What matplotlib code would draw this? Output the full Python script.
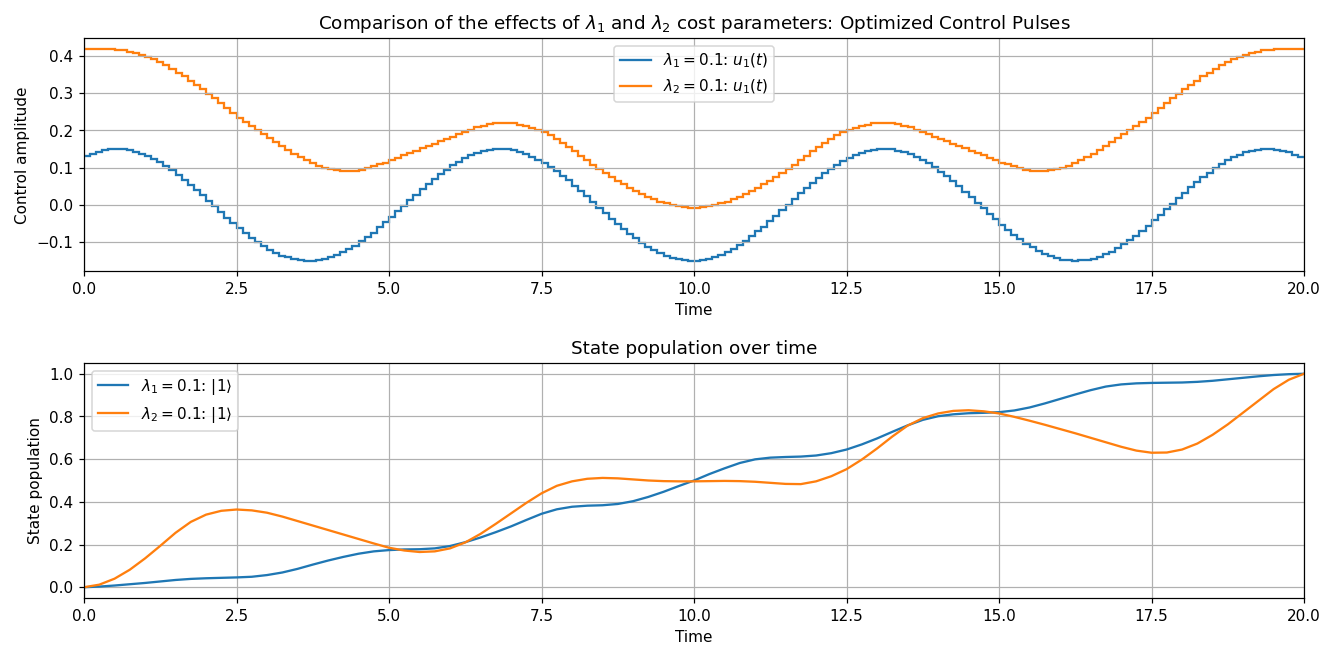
import numpy as np
import matplotlib
matplotlib.use("Agg")
import matplotlib.pyplot as plt

# piecewise-constant control pulses, 200 slices of 0.1 over t = 0..20
t_edges = np.linspace(0, 20, 201)

u1_lam1 = [
    0.132, 0.138, 0.143, 0.147, 0.149, 0.150, 0.149, 0.147, 0.143, 0.138,
    0.132, 0.124, 0.115, 0.105, 0.093, 0.081, 0.068, 0.054, 0.040, 0.026,
    0.011, -0.004, -0.019, -0.034, -0.049, -0.062, -0.076, -0.088, -0.100, -0.111,
    -0.120, -0.129, -0.136, -0.141, -0.146, -0.149, -0.150, -0.150, -0.148, -0.145,
    -0.141, -0.135, -0.127, -0.119, -0.109, -0.098, -0.086, -0.074, -0.060, -0.046,
    -0.032, -0.017, -0.002, 0.013, 0.028, 0.043, 0.057, 0.070, 0.083, 0.095,
    0.106, 0.116, 0.125, 0.133, 0.139, 0.144, 0.148, 0.150, 0.150, 0.149,
    0.147, 0.143, 0.137, 0.130, 0.122, 0.113, 0.103, 0.091, 0.079, 0.066,
    0.052, 0.038, 0.023, 0.008, -0.007, -0.022, -0.037, -0.051, -0.065, -0.078,
    -0.090, -0.102, -0.112, -0.122, -0.130, -0.137, -0.142, -0.146, -0.149, -0.150,
    -0.150, -0.148, -0.144, -0.140, -0.133, -0.126, -0.117, -0.107, -0.096, -0.084,
    -0.071, -0.058, -0.044, -0.029, -0.014, 0.001, 0.016, 0.031, 0.045, 0.059,
    0.073, 0.085, 0.097, 0.108, 0.118, 0.127, 0.134, 0.140, 0.145, 0.148,
    0.150, 0.150, 0.149, 0.146, 0.142, 0.136, 0.129, 0.121, 0.112, 0.101,
    0.089, 0.077, 0.064, 0.050, 0.035, 0.021, 0.006, -0.009, -0.024, -0.039,
    -0.053, -0.067, -0.080, -0.092, -0.104, -0.114, -0.123, -0.131, -0.138, -0.143,
    -0.147, -0.149, -0.150, -0.149, -0.147, -0.144, -0.139, -0.132, -0.125, -0.116,
    -0.106, -0.094, -0.082, -0.069, -0.056, -0.041, -0.027, -0.012, 0.003, 0.018,
    0.033, 0.047, 0.061, 0.075, 0.087, 0.099, 0.110, 0.120, 0.128, 0.135,
    0.141, 0.145, 0.148, 0.150, 0.150, 0.148, 0.146, 0.141, 0.135, 0.128,
]

u1_lam2 = [
    0.420, 0.420, 0.420, 0.419, 0.418, 0.417, 0.415, 0.412, 0.408, 0.403,
    0.397, 0.391, 0.384, 0.375, 0.365, 0.355, 0.345, 0.334, 0.322, 0.311,
    0.299, 0.286, 0.273, 0.260, 0.247, 0.234, 0.222, 0.211, 0.201, 0.190,
    0.180, 0.169, 0.158, 0.147, 0.137, 0.128, 0.120, 0.112, 0.105, 0.100,
    0.096, 0.093, 0.091, 0.091, 0.092, 0.094, 0.099, 0.104, 0.109, 0.114,
    0.120, 0.127, 0.133, 0.139, 0.145, 0.152, 0.158, 0.165, 0.171, 0.177,
    0.183, 0.190, 0.196, 0.202, 0.208, 0.213, 0.217, 0.220, 0.221, 0.221,
    0.219, 0.216, 0.212, 0.207, 0.202, 0.195, 0.188, 0.178, 0.167, 0.156,
    0.144, 0.132, 0.120, 0.108, 0.096, 0.085, 0.075, 0.065, 0.055, 0.046,
    0.038, 0.030, 0.022, 0.015, 0.009, 0.004, 0.000, -0.004, -0.006, -0.008,
    -0.008, -0.006, -0.004, 0.000, 0.004, 0.009, 0.015, 0.022, 0.030, 0.038,
    0.046, 0.055, 0.065, 0.075, 0.085, 0.096, 0.108, 0.120, 0.132, 0.144,
    0.156, 0.167, 0.178, 0.188, 0.195, 0.202, 0.207, 0.212, 0.216, 0.219,
    0.221, 0.221, 0.220, 0.217, 0.213, 0.208, 0.202, 0.196, 0.190, 0.183,
    0.177, 0.171, 0.165, 0.158, 0.152, 0.145, 0.139, 0.133, 0.127, 0.120,
    0.114, 0.109, 0.104, 0.099, 0.094, 0.092, 0.091, 0.091, 0.093, 0.096,
    0.100, 0.105, 0.112, 0.120, 0.128, 0.137, 0.147, 0.158, 0.169, 0.180,
    0.190, 0.201, 0.211, 0.222, 0.234, 0.247, 0.260, 0.273, 0.286, 0.299,
    0.311, 0.322, 0.334, 0.345, 0.355, 0.365, 0.375, 0.384, 0.391, 0.397,
    0.403, 0.408, 0.412, 0.415, 0.417, 0.418, 0.419, 0.420, 0.420, 0.420,
]

# population of |1> sampled every 0.25
t_pop = np.linspace(0, 20, 81)

pop_lam1 = [
    0.000, 0.003, 0.008, 0.014, 0.020, 0.027, 0.034, 0.039, 0.042, 0.044,
    0.046, 0.049, 0.057, 0.069, 0.086, 0.106, 0.125, 0.142, 0.157, 0.168,
    0.174, 0.177, 0.178, 0.182, 0.193, 0.211, 0.233, 0.258, 0.285, 0.315,
    0.344, 0.365, 0.377, 0.382, 0.384, 0.390, 0.403, 0.423, 0.447, 0.474,
    0.500, 0.530, 0.557, 0.582, 0.599, 0.607, 0.610, 0.612, 0.617, 0.628,
    0.645, 0.669, 0.697, 0.728, 0.758, 0.784, 0.801, 0.810, 0.815, 0.817,
    0.820, 0.828, 0.842, 0.861, 0.882, 0.903, 0.923, 0.940, 0.950, 0.955,
    0.957, 0.958, 0.959, 0.962, 0.967, 0.974, 0.981, 0.988, 0.994, 0.998,
    1.000,
]

pop_lam2 = [
    0.000, 0.012, 0.040, 0.082, 0.135, 0.194, 0.255, 0.306, 0.340, 0.358,
    0.364, 0.360, 0.349, 0.331, 0.310, 0.289, 0.268, 0.247, 0.226, 0.205,
    0.185, 0.172, 0.165, 0.168, 0.182, 0.210, 0.250, 0.297, 0.346, 0.395,
    0.440, 0.475, 0.496, 0.508, 0.512, 0.510, 0.505, 0.500, 0.497, 0.496,
    0.496, 0.497, 0.498, 0.497, 0.494, 0.489, 0.484, 0.483, 0.496, 0.520,
    0.553, 0.598, 0.650, 0.706, 0.757, 0.792, 0.814, 0.826, 0.829, 0.824,
    0.814, 0.798, 0.780, 0.761, 0.741, 0.721, 0.700, 0.679, 0.658, 0.640,
    0.630, 0.631, 0.645, 0.673, 0.714, 0.763, 0.818, 0.873, 0.928, 0.972,
    1.000,
]

fig, (ax1, ax2) = plt.subplots(2, 1, figsize=(12.03, 5.865), dpi=110)

ax1.stairs(u1_lam1, t_edges, baseline=None, lw=1.5, label=r'$\lambda_1 = 0.1$: $u_1(t)$')
ax1.stairs(u1_lam2, t_edges, baseline=None, lw=1.5, label=r'$\lambda_2 = 0.1$: $u_1(t)$')
ax1.set_xlim(0, 20)
ax1.set_title(r'Comparison of the effects of $\lambda_1$ and $\lambda_2$ cost parameters: Optimized Control Pulses')
ax1.set_xlabel('Time')
ax1.set_ylabel('Control amplitude')
ax1.grid(True)
ax1.legend(loc='upper center')

ax2.plot(t_pop, pop_lam1, label=r'$\lambda_1 = 0.1$: $|1\rangle$')
ax2.plot(t_pop, pop_lam2, label=r'$\lambda_2 = 0.1$: $|1\rangle$')
ax2.set_xlim(0, 20)
ax2.set_title('State population over time')
ax2.set_xlabel('Time')
ax2.set_ylabel('State population')
ax2.grid(True)
ax2.legend(loc='upper left')

ax1.set_position([0.0635, 0.579, 0.922, 0.362])
ax2.set_position([0.0635, 0.073, 0.922, 0.364])

fig.savefig('out.png', dpi=110)
